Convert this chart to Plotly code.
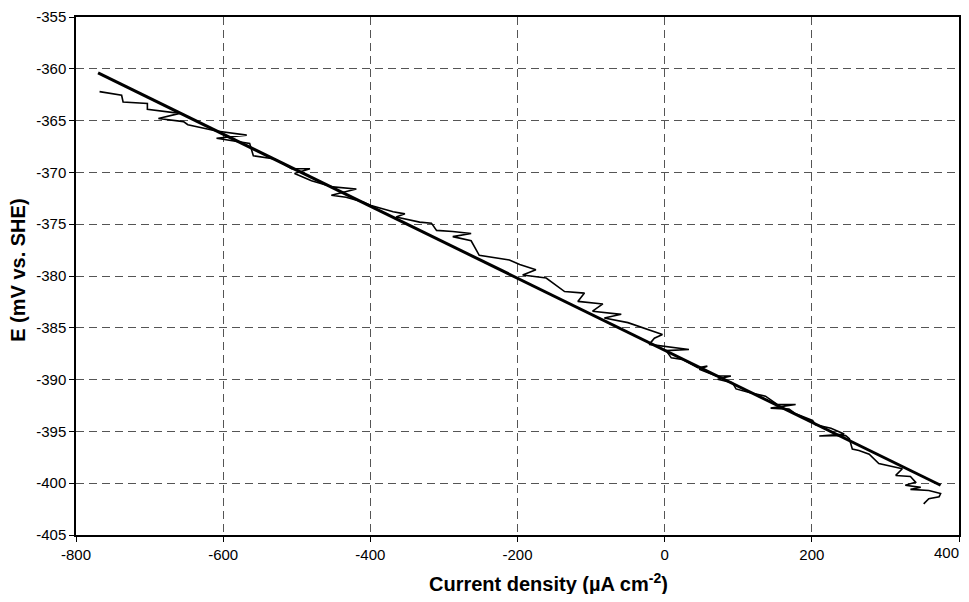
import plotly.graph_objects as go

# Measured polarization data (noisy trace)
meas_x = [-768, -738, -736, -703, -703, -659, -688, -654, -648, -609, -568, -609, -564, -559,
          -530, -507, -482, -503, -480, -451, -419, -453, -433, -410, -399, -369, -353, -365,
          -333, -317, -310, -288, -263, -288, -263, -252, -211, -197, -175, -193, -161, -152,
          -136, -109, -118, -84, -98, -59, -82, -50, -3, -14, -21, 33, 2, 9, 24, 45, 58, 47,
          70, 90, 72, 92, 97, 115, 137, 153, 178, 144, 169, 178, 201, 205, 226, 244, 210, 246,
          251, 255, 264, 278, 291, 323, 314, 334, 341, 327, 348, 334, 359, 375, 373, 359, 352]
meas_y = [-362.2, -362.55, -363.2, -363.35, -363.9, -364.3, -364.8, -365.1, -365.4, -366.0,
          -366.4, -366.7, -367.2, -368.4, -368.7, -369.65, -369.65, -370.1, -370.8, -371.4,
          -371.6, -372.2, -372.4, -372.85, -373.2, -373.8, -374.0, -374.3, -374.8, -374.9,
          -375.6, -375.7, -375.9, -376.2, -376.6, -378.0, -378.45, -378.9, -379.4, -379.9,
          -380.2, -380.7, -381.5, -381.65, -382.45, -382.7, -383.4, -383.7, -384.05, -384.5,
          -385.65, -386.0, -386.6, -387.1, -387.2, -387.9, -388.05, -388.85, -388.7, -389.0,
          -389.65, -389.65, -389.96, -390.3, -390.9, -391.25, -391.6, -392.4, -392.4, -392.75,
          -392.85, -393.3, -393.95, -394.35, -394.7, -395.25, -395.45, -395.4, -395.7, -396.7,
          -396.85, -397.2, -398.1, -398.6, -399.25, -399.35, -399.9, -400.2, -400.4, -400.6,
          -400.7, -401.0, -401.3, -401.5, -402.0]

# Linear fit line
fit_x = [-770, 375]
fit_y = [-360.4, -400.2]

x_ticks = [-800, -600, -400, -200, 0, 200, 400]
x_labels = ["-800", "-600", "-400", "-200", "0", "200", "400"]
y_ticks = [-405, -400, -395, -390, -385, -380, -375, -370, -365, -360, -355]
y_labels = ["-405", "-400", "-395", "-390", "-385", "-380", "-375", "-370", "-365", "-360", "-355"]

x_title = "<b>Current density (µA cm<sup>-2</sup>)</b>"
y_title = "<b>E (mV vs. SHE)</b>"

fig = go.Figure()
fig.add_trace(go.Scatter(x=meas_x, y=meas_y, mode="lines",
                         line=dict(color="black", width=1.6), showlegend=False))
fig.add_trace(go.Scatter(x=fit_x, y=fit_y, mode="lines",
                         line=dict(color="black", width=3), showlegend=False))

font = "Liberation Sans, Arial, sans-serif"
common = dict(ticks="outside", ticklen=5, tickcolor="black", showline=True,
              linecolor="black", linewidth=1.5, mirror=True, showgrid=True,
              gridcolor="#555555", gridwidth=1, griddash="8px,5px", zeroline=False,
              tickfont=dict(size=15), automargin=False, ticklabeloverflow="allow")

# last x tick label drawn as annotation so it stays inside the page like the reference
x_text = x_labels[:-1] + [""]

# figure sized so the page (with the body's 8px margin) never needs scrollbars
fig.update_layout(
    width=953, height=586,
    margin=dict(l=68, r=2, t=9, b=59),
    paper_bgcolor="white", plot_bgcolor="white",
    font=dict(family=font, color="black", size=15),
    xaxis=dict(range=[-800, 400], tickvals=x_ticks, ticktext=x_text, **common),
    yaxis=dict(range=[-405, -355], tickvals=y_ticks, ticktext=y_labels, **common),
    annotations=[
        dict(text=x_labels[-1], x=1, xref="paper", y=0, yref="paper",
             xanchor="right", yanchor="top", xshift=2, yshift=-7,
             showarrow=False, font=dict(size=15)),
        dict(text=x_title, x=0.535, xref="paper", y=0, yref="paper",
             xanchor="center", yanchor="middle", yshift=-47,
             showarrow=False, font=dict(size=20)),
        dict(text=y_title, x=0, xref="paper", y=0.51, yref="paper",
             xanchor="center", yanchor="middle", xshift=-58, textangle=-90,
             showarrow=False, font=dict(size=20)),
    ],
)

fig.write_html("out.html")
